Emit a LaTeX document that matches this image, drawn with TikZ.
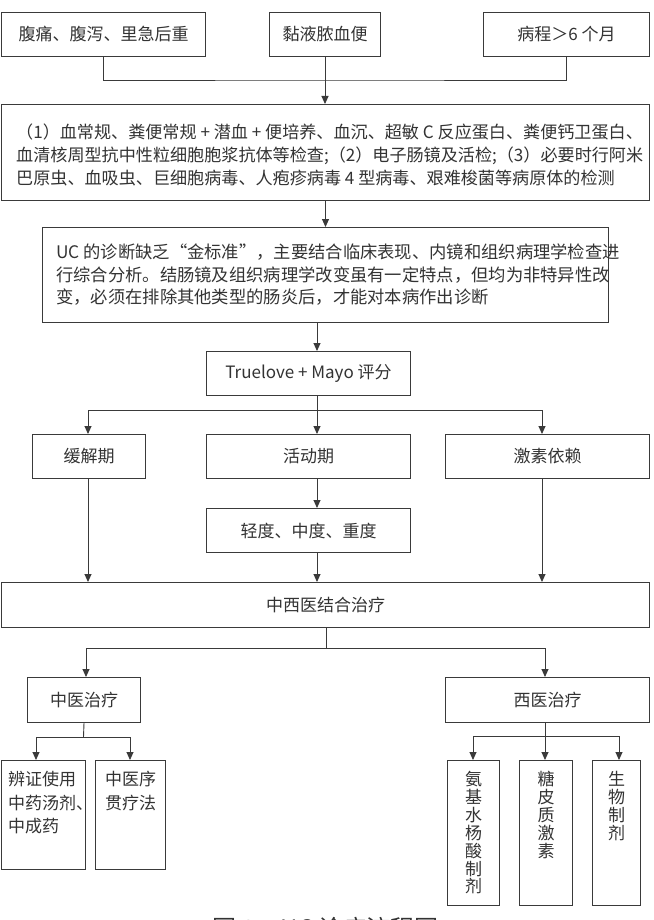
\documentclass[tikz,border=0pt]{standalone}
\usepackage{fontspec}
\setmainfont{Noto Sans CJK SC}
\usetikzlibrary{arrows.meta}
\definecolor{ink}{HTML}{333333}
\definecolor{lineink}{HTML}{3a3a3a}
\begin{document}
\begin{tikzpicture}[x=1pt,y=-1pt,
  box/.style={draw=lineink, line width=1pt, inner sep=0pt, text=ink, anchor=north west, font=\fontsize{17}{23}\selectfont},
  txt/.style={inner sep=0pt, text=ink},
  conn/.style={draw=lineink, line width=0.9pt},
  arr/.style={conn, -{Triangle[length=8pt,width=7pt]}},
]
\useasboundingbox (0,0) rectangle (653,920);
\fill[white] (0,0) rectangle (653,920);

% top row
\node[box, minimum width=204pt, minimum height=44pt] (a) at (1,12) {腹痛、腹泻、里急后重};
\node[box, minimum width=111pt, minimum height=44pt] (b) at (269,12) {黏液脓血便};
\node[box, minimum width=166pt, minimum height=44pt] (c) at (483,12) {病程＞6 个月};

% examinations
\node[box, minimum width=648pt, minimum height=96pt] (d) at (1,104) {};
\node[txt, anchor=west, align=left, font=\fontsize{17.1}{23}\selectfont] (dt) at (16,155)
  {（1）血常规、粪便常规 + 潜血 + 便培养、血沉、超敏 C 反应蛋白、粪便钙卫蛋白、\\
   血清核周型抗中性粒细胞胞浆抗体等检查;（2）电子肠镜及活检;（3）必要时行阿米\\
   巴原虫、血吸虫、巨细胞病毒、人疱疹病毒 4 型病毒、艰难梭菌等病原体的检测};

% diagnosis
\node[box, minimum width=566pt, minimum height=95pt] (e) at (42,227) {};
\node[txt, anchor=west, align=left, font=\fontsize{17.3}{22.5}\selectfont] (et) at (56,275)
  {UC 的诊断缺乏“金标准”，主要结合临床表现、内镜和组织病理学检查进\\
   行综合分析。结肠镜及组织病理学改变虽有一定特点，但均为非特异性改\\
   变，必须在排除其他类型的肠炎后，才能对本病作出诊断};

% scoring
\node[box, minimum width=204pt, minimum height=44pt] (t) at (206,351) {Truelove + Mayo 评分};

% phases
\node[box, minimum width=113pt, minimum height=44pt] (r1) at (32,434) {缓解期};
\node[box, minimum width=204pt, minimum height=44pt] (r2) at (206,434) {活动期};
\node[box, minimum width=204pt, minimum height=44pt] (r3) at (445,434) {激素依赖};
\node[box, minimum width=204pt, minimum height=44pt] (s) at (206,508) {轻度、中度、重度};

% combined treatment
\node[box, minimum width=648pt, minimum height=45pt] (z) at (1,582) {中西医结合治疗};

\node[box, minimum width=113pt, minimum height=45pt] (tcm) at (27,677) {中医治疗};
\node[box, minimum width=204pt, minimum height=45pt] (wm) at (445,677) {西医治疗};

% TCM sub boxes
\node[box, minimum width=84pt, minimum height=109pt] (k1) at (1,760) {};
\node[box, minimum width=70pt, minimum height=109pt] (k2) at (95,760) {};
\node[txt, anchor=north west, align=left, font=\fontsize{17}{23.5}\selectfont] (k1t) at (8,771) {辨证使用\\中药汤剂、\\中成药};
\node[txt, anchor=north west, align=left, font=\fontsize{17}{23.5}\selectfont] (k2t) at (105,771) {中医序\\贯疗法};

% Western sub boxes
\node[box, minimum width=52pt, minimum height=145pt] (w1) at (447,760) {};
\node[box, minimum width=53pt, minimum height=145pt] (w2) at (519,760) {};
\node[box, minimum width=48pt, minimum height=145pt] (w3) at (592,760) {};
\node[txt, anchor=north, align=center, font=\fontsize{17}{17.9}\selectfont] (w1t) at (w1.north |- 0,771) {氨\\基\\水\\杨\\酸\\制\\剂};
\node[txt, anchor=north, align=center, font=\fontsize{17}{17.9}\selectfont] (w2t) at (w2.north |- 0,771) {糖\\皮\\质\\激\\素};
\node[txt, anchor=north, align=center, font=\fontsize{17}{17.9}\selectfont] (w3t) at (w3.north |- 0,771) {生\\物\\制\\剂};

% caption (cut by the page edge, as in the reference)
\node[txt, anchor=base west, font=\fontsize{24}{24}\selectfont] (cap) at (212,937) {图 1\hspace{26pt}UC 诊疗流程图};

% ---------- connectors
\coordinate (j1) at (324.5,80);
\draw[conn] (a.south) |- (j1) -| (c.south);
\draw[arr] (b.south) -- (b.south |- d.north);
\draw[arr] (d.south) -- (e.north);

\coordinate (mx) at (317,0);
\draw[arr] (e.south -| mx) -- (t.north -| mx);
\coordinate (j2) at (317,410);
\draw[conn] (t.south -| mx) -- (j2);
\draw[arr] (j2) -| (r1.north -| 88,0);
\draw[arr] (j2) -| (r3.north -| 542,0);
\draw[arr] (j2) -- (r2.north -| mx);
\draw[arr] (r2.south -| mx) -- (s.north -| mx);

\draw[arr] (r1.south -| 88,0) -- (z.north -| 88,0);
\draw[arr] (s.south -| mx) -- (z.north -| mx);
\draw[arr] (r3.south -| 542,0) -- (z.north -| 542,0);

\coordinate (j3) at (326,648);
\draw[conn] (z.south -| j3) -- (j3);
\draw[arr] (j3) -| (tcm.north -| 86,0);
\draw[arr] (j3) -| (wm.north -| 545,0);

\coordinate (j4) at (83.5,737);
\draw[conn] (tcm.south) -- (j4);
\draw[arr] (j4) -| (k1.north -| 36,0);
\draw[arr] (j4) -| (k2.north -| 130,0);

\coordinate (j5) at (545,736);
\draw[conn] (wm.south -| j5) -- (j5);
\draw[arr] (j5) -| (w1.north -| 473,0);
\draw[arr] (j5) -- (w2.north -| j5);
\draw[arr] (j5) -| (w3.north -| 619,0);
\end{tikzpicture}
\end{document}
